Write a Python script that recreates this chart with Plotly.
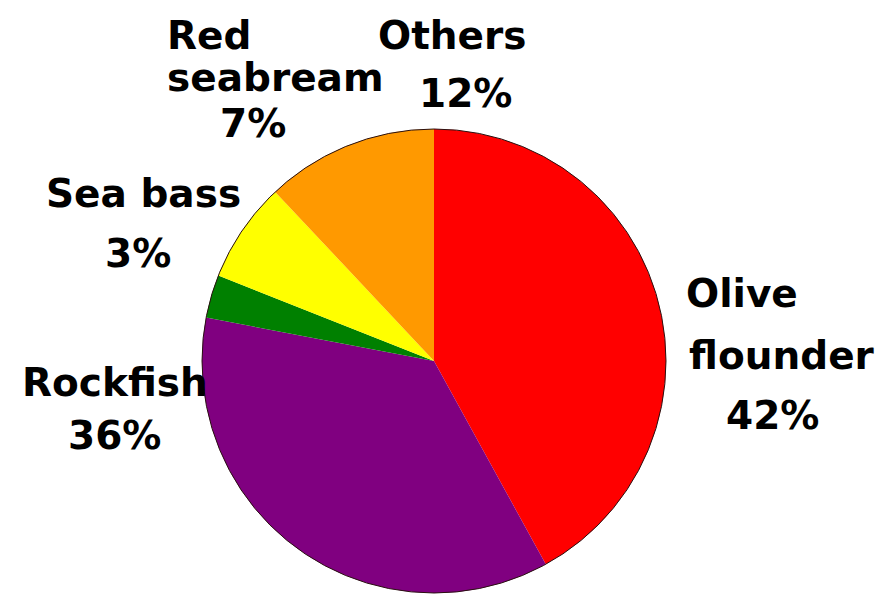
import plotly.graph_objects as go

# Share of cultured fish production by species
species = ["Olive\nflounder", "Rockfish", "Sea bass", "Red\nseabream", "Others"]
shares = [42, 36, 3, 7, 12]
slice_colors = ["#FF0000", "#800080", "#008000", "#FFFF00", "#FF9900"]

# Centre of each text line (pixels from the top-left corner), name lines then percentage
line_centres = {
    "Olive\nflounder": [(742, 293), (782, 355), (772, 415)],
    "Rockfish": [(115, 382), (114, 435)],
    "Sea bass": [(143, 193), (138, 253)],
    "Red\nseabream": [(209, 35), (275, 77), (253, 123)],
    "Others": [(452, 35), (465, 93)],
}

W, H = 882, 594
cx, cy, r = 434, 361, 232
dom_x = [(cx - r) / W, (cx + r) / W]
dom_y = [1 - (cy + r) / H, 1 - (cy - r) / H]

fig = go.Figure(
    go.Pie(
        labels=[s.replace("\n", " ") for s in species],
        values=shares,
        sort=False,
        direction="clockwise",
        rotation=0,
        textinfo="none",
        marker=dict(colors=slice_colors, line=dict(width=0)),
        domain=dict(x=dom_x, y=dom_y),
        showlegend=False,
    )
)

label_font = dict(family="DejaVu Sans, Arial, sans-serif", size=39, color="#000000", weight="bold")

total = sum(shares)
annotations = []
for name, val in zip(species, shares):
    lines = name.split("\n") + [f"{round(100 * val / total)}%"]
    for text, (px, py) in zip(lines, line_centres[name]):
        annotations.append(
            dict(
                text=text,
                x=px / W,
                y=1 - py / H,
                xref="paper",
                yref="paper",
                xanchor="center",
                yanchor="middle",
                showarrow=False,
                font=label_font,
            )
        )

fig.update_layout(
    width=W,
    height=H,
    margin=dict(l=0, r=0, t=0, b=0),
    paper_bgcolor="white",
    plot_bgcolor="white",
    annotations=annotations,
    shapes=[
        dict(
            type="circle",
            xref="paper",
            yref="paper",
            x0=dom_x[0],
            x1=dom_x[1],
            y0=dom_y[0],
            y1=dom_y[1],
            line=dict(color="#2a1010", width=1),
            layer="above",
        )
    ],
)

fig.write_html("out.html")
